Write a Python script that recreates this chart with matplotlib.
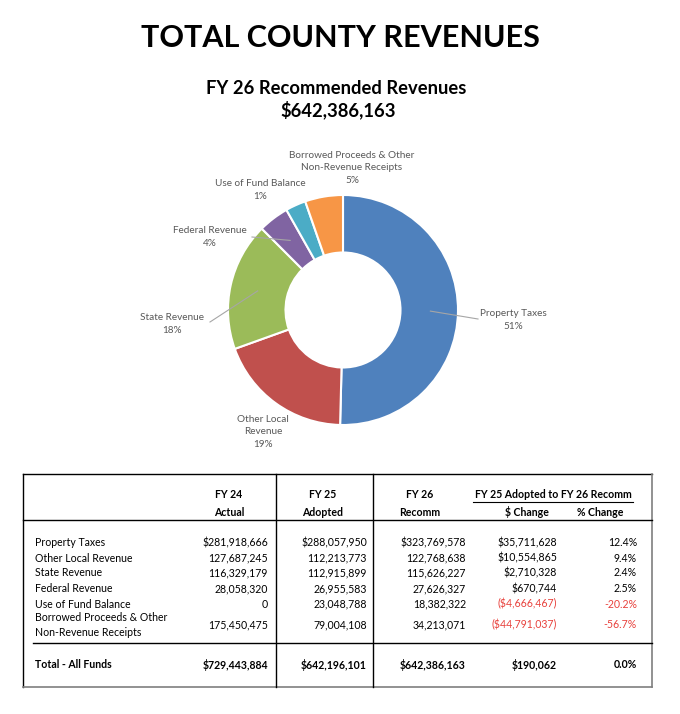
import numpy as np
import matplotlib
matplotlib.use('Agg')
import matplotlib.pyplot as plt

plt.rcParams['font.family'] = ['Lato', 'DejaVu Sans']

# ---- data ----
categories = ['Property Taxes', 'Other Local Revenue', 'State Revenue',
              'Federal Revenue', 'Use of Fund Balance',
              'Borrowed Proceeds & Other\nNon-Revenue Receipts']
fy24_actual = [281918666, 127687245, 116329179, 28058320, 0, 175450475]
fy25_adopted = [288057950, 112213773, 112915899, 26955583, 23048788, 79004108]
fy26_recomm = [323769578, 122768638, 115626227, 27626327, 18382322, 34213071]
dollar_change = [35711628, 10554865, 2710328, 670744, -4666467, -44791037]
pct_change = [12.4, 9.4, 2.4, 2.5, -20.2, -56.7]

total_fy24 = 729443884
total_fy25 = 642196101
total_fy26 = 642386163
total_change = 190062
total_pct = 0.0

pie_labels = ['Property Taxes', 'Other Local\nRevenue', 'State Revenue',
              'Federal Revenue', 'Use of Fund Balance',
              'Borrowed Proceeds & Other\nNon-Revenue Receipts']
pie_pct = [51, 19, 18, 4, 1, 5]
colors = ['#4F81BD', '#C0504D', '#9BBB59', '#8064A2', '#4BACC6', '#F79646']

W, H = 680, 714
fig = plt.figure(figsize=(W / 100, H / 100), dpi=100)
ax = fig.add_axes([0, 0, 1, 1])


def Y(y):
    return H - y


# ---- titles ----
ax.text(340, Y(38), 'TOTAL COUNTY REVENUES', ha='center', va='center',
        fontsize=22, fontweight='bold', color='black')
ax.text(336, Y(88), 'FY 26 Recommended Revenues', ha='center', va='center',
        fontsize=13.2, fontweight='bold', color='black')
ax.text(338, Y(110), '$642,386,163', ha='center', va='center',
        fontsize=13.2, fontweight='bold', color='black')

# ---- donut ----
cx, cy, R = 343, Y(310), 115
wedges, _ = ax.pie(fy26_recomm, colors=colors, startangle=90, counterclock=False,
                   center=(cx, cy), radius=R,
                   wedgeprops=dict(width=R * 0.5, edgecolor='white', linewidth=1.5))

gray = '#595959'
label_pos = [(513, 320), (263, 432), (172, 324), (210, 237), (260, 190), (352, 168)]
leaders = {0: (478, 319), 2: (210, 322), 3: (252, 237)}
for i, (w, lab, p) in enumerate(zip(wedges, pie_labels, pie_pct)):
    lx, ly = label_pos[i]
    ax.text(lx, Y(ly), f'{lab}\n{p}%', ha='center', va='center',
            fontsize=7.2, color=gray, linespacing=1.45)
    if i in leaders:
        mid = np.deg2rad((w.theta1 + w.theta2) / 2)
        sx = cx + 0.76 * R * np.cos(mid)
        sy = cy + 0.76 * R * np.sin(mid)
        ex, ey = leaders[i]
        ax.plot([sx, ex], [sy, Y(ey)], color='#A6A6A6', lw=0.8)

# ---- table ----
left, right, top, bottom = 23, 652, 474, 687
vlines = [276, 373]
lc = 'black'
ax.plot([left, right], [Y(top), Y(top)], color=lc, lw=1)
ax.plot([left, left], [Y(top), Y(bottom)], color=lc, lw=1)
ax.plot([right, right], [Y(top), Y(bottom)], color='#7F7F7F', lw=1.2)
ax.plot([left, right], [Y(bottom), Y(bottom)], color='#7F7F7F', lw=1.2)
for vx in vlines:
    ax.plot([vx, vx], [Y(top), Y(bottom)], color=lc, lw=1)
ax.plot([left, right], [Y(520), Y(520)], color=lc, lw=1)
ax.plot([33, right], [Y(643), Y(643)], color=lc, lw=1)

hfs = 7.6
bfs = 7.6
head = dict(ha='center', va='center', fontsize=hfs, fontweight='bold', color='black')
ax.text(229, Y(495), 'FY 24', **head)
ax.text(229, Y(512), 'Actual', **head)
ax.text(323, Y(495), 'FY 25', **head)
ax.text(323, Y(512), 'Adopted', **head)
ax.text(420, Y(495), 'FY 26', **head)
ax.text(420, Y(512), 'Recomm', **head)
ax.text(553, Y(495), 'FY 25 Adopted to FY 26 Recomm', **head)
ax.plot([473, 633], [Y(502), Y(502)], color='black', lw=0.8)
ax.text(527, Y(512), '$ Change', **head)
ax.text(600, Y(512), '% Change', **head)

col_x = [268, 367, 466, 557, 637]
row_y = [543, 558, 573, 589, 604, 625]
red = '#E8413C'


def money(v, dollar):
    s = f'{abs(v):,}'
    if dollar:
        s = '$' + s
    return f'({s})' if v < 0 else s


for i, cat in enumerate(categories):
    ry = Y(row_y[i])
    ax.text(35, ry, cat, ha='left', va='center', fontsize=bfs, color='black',
            linespacing=1.55)
    first = i == 0
    ax.text(col_x[0], ry, money(fy24_actual[i], first), ha='right', va='center',
            fontsize=bfs, color='black')
    ax.text(col_x[1], ry, money(fy25_adopted[i], first), ha='right', va='center',
            fontsize=bfs, color='black')
    ax.text(col_x[2], ry, money(fy26_recomm[i], first), ha='right', va='center',
            fontsize=bfs, color='black')
    c = red if dollar_change[i] < 0 else 'black'
    ax.text(col_x[3], ry, money(dollar_change[i], True), ha='right', va='center',
            fontsize=bfs, color=c)
    ax.text(col_x[4], ry, f'{pct_change[i]:.1f}%', ha='right', va='center',
            fontsize=bfs, color=c)

ty = Y(665)
tot = dict(ha='right', va='center', fontsize=bfs, fontweight='bold', color='black')
ax.text(35, ty, 'Total - All Funds', ha='left', va='center', fontsize=bfs,
        fontweight='bold', color='black')
ax.text(col_x[0], ty, money(total_fy24, True), **tot)
ax.text(col_x[1], ty, money(total_fy25, True), **tot)
ax.text(col_x[2], ty, money(total_fy26, True), **tot)
ax.text(col_x[3], ty, money(total_change, True), **tot)
ax.text(col_x[4], ty, f'{total_pct:.1f}%', **tot)

ax.set_xlim(0, W)
ax.set_ylim(0, H)
ax.set_aspect('auto')
ax.axis('off')

fig.savefig('out.png', dpi=100)
